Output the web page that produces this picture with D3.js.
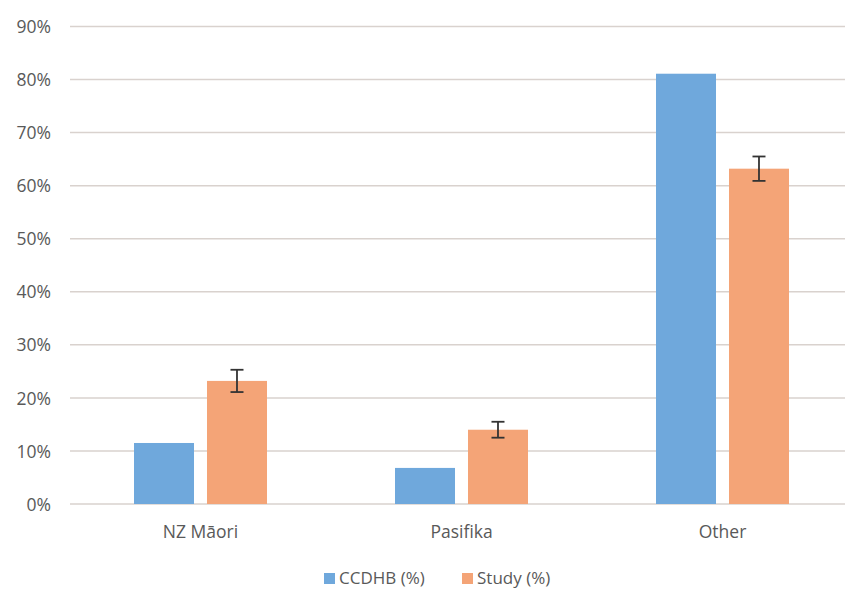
<!DOCTYPE html>
<html>
<head>
<meta charset="utf-8">
<script src="https://cdn.jsdelivr.net/npm/d3@7"></script>
<style>
  html, body { margin: 0; padding: 0; background: #fff; }
  svg { display: block; }
  text { font-family: "Open Sans", "Noto Sans", sans-serif; fill: #595959; }
</style>
</head>
<body>
<svg id="chart" width="845" height="592"></svg>
<script>
const categories = ["NZ Māori", "Pasifika", "Other"];
const seriesNames = ["CCDHB (%)", "Study (%)"];
const ccdhbValues = [11.5, 6.8, 81.1];
const studyValues = [23.2, 14.0, 63.2];
const studyErrors = [2.1, 1.5, 2.3];
const yTicks = [0, 10, 20, 30, 40, 50, 60, 70, 80, 90];
const colors = ["#6FA8DC", "#F4A477"];

const svg = d3.select("#chart");

const y = d3.scaleLinear().domain([0, 90]).range([504, 26.5]);
const x0 = d3.scaleBand().domain(categories).range([70, 853]).paddingInner(0).paddingOuter(0);
const x1 = d3.scaleBand().domain(seriesNames).range([0, x0.bandwidth()]).paddingInner(0.178).paddingOuter(0.877);

// y axis labels
const yAxis = d3.axisLeft(y).tickValues(yTicks).tickFormat(d => d + "%").tickSize(0).tickPadding(0);
const gAxis = svg.append("g").attr("transform", "translate(51,0)").call(yAxis);
gAxis.select(".domain").remove();
gAxis.selectAll("text").attr("font-size", 17.5).attr("fill", "#666").attr("dy", "0.35em")
  .attr("font-family", "'Open Sans', sans-serif");

// gridlines
svg.append("g").selectAll("line").data(yTicks).join("line")
  .attr("x1", 70).attr("x2", 845)
  .attr("y1", d => y(d)).attr("y2", d => y(d))
  .attr("stroke", "#D9D2CE").attr("stroke-width", 1.5);

const data = categories.map((c, i) => ({ cat: c, vals: [ccdhbValues[i], studyValues[i]], err: studyErrors[i] }));

const groups = svg.append("g").selectAll("g").data(data).join("g")
  .attr("transform", d => `translate(${x0(d.cat)},0)`);

groups.selectAll("rect").data(d => d.vals.map((v, j) => ({ name: seriesNames[j], v, j })))
  .join("rect")
  .attr("x", d => x1(d.name))
  .attr("width", x1.bandwidth())
  .attr("y", d => y(d.v))
  .attr("height", d => y(0) - y(d.v))
  .attr("fill", d => colors[d.j]);

// error bars on Study
const cx = x1(seriesNames[1]) + x1.bandwidth() / 2;
const eb = groups.append("g").attr("stroke", "#333").attr("stroke-width", 1.8);
eb.append("line")
  .attr("x1", cx).attr("x2", cx)
  .attr("y1", d => y(d.vals[1] + d.err))
  .attr("y2", d => y(d.vals[1] - d.err));
[1, -1].forEach(s => {
  eb.append("line")
    .attr("x1", cx - 6.5).attr("x2", cx + 6.5)
    .attr("y1", d => y(d.vals[1] + s * d.err))
    .attr("y2", d => y(d.vals[1] + s * d.err));
});

// x labels
svg.append("g").selectAll("text").data(categories).join("text")
  .attr("x", d => x0(d) + x0.bandwidth() / 2)
  .attr("y", 532)
  .attr("dy", "0.35em")
  .attr("text-anchor", "middle")
  .attr("font-size", 17.5)
  .attr("fill", "#666")
  .text(d => d);

// legend
const legend = svg.append("g");
const legendX = [324, 462];
seriesNames.forEach((n, i) => {
  legend.append("rect").attr("x", legendX[i]).attr("y", 573).attr("width", 11).attr("height", 11).attr("fill", colors[i]);
  legend.append("text").attr("x", legendX[i] + 15).attr("y", 578.5).attr("dy", "0.35em")
    .attr("font-size", 17).attr("fill", "#666").text(n);
});
</script>
</body>
</html>
